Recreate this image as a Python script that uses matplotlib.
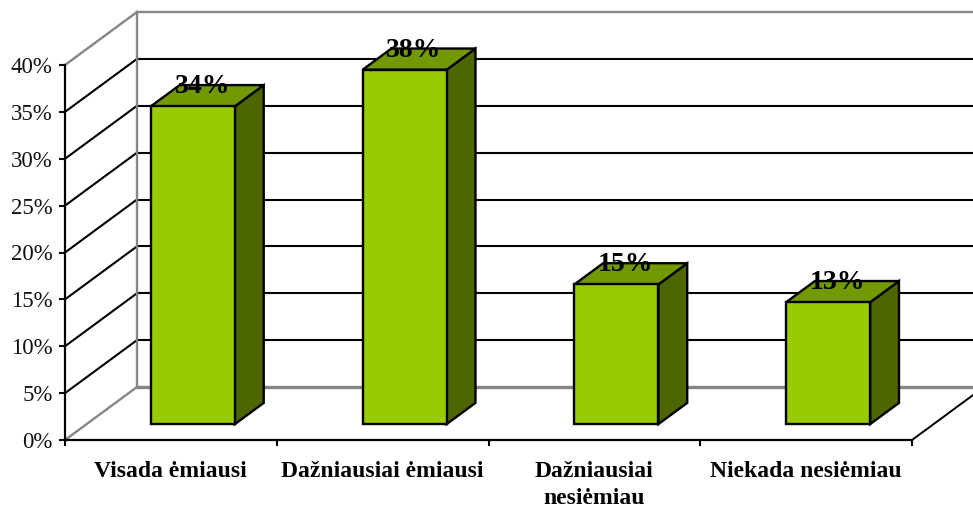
import matplotlib
matplotlib.use('Agg')
import matplotlib.pyplot as plt
from matplotlib.patches import Polygon

plt.rcParams['font.family'] = ['Liberation Serif', 'DejaVu Serif']

categories = ['Visada ėmiausi', 'Dažniausiai ėmiausi', 'Dažniausiai\nnesiėmiau', 'Niekada nesiėmiau']
values = [33.9, 37.8, 14.9, 13]
value_labels = ['34%', '38%', '15%', '13%']
y_ticks = [0, 5, 10, 15, 20, 25, 30, 35, 40]
y_tick_labels = ['0%', '5%', '10%', '15%', '20%', '25%', '30%', '35%', '40%']

W, H = 973, 508
# front plane of the box in pixels
LEFT, RIGHT, BOTTOM, TOP = 65, 912, 440, 65
# full depth of the box in data units (72 px across, 53 px up)
DEPTH_X = 72 / ((RIGHT - LEFT) / 4)
DEPTH_Y = 53 / ((BOTTOM - TOP) / 40)
BAR_W = 0.397

fig = plt.figure(figsize=(W / 100, H / 100), dpi=100)
ax = fig.add_axes([LEFT / W, 1 - BOTTOM / H, (RIGHT - LEFT) / W, (BOTTOM - TOP) / H])
ax.set_xlim(0, 4)
ax.set_ylim(0, 40)
ax.patch.set_visible(False)


# oblique projection: d is 0 at the front of the box, 1 at the back wall
def proj(x, y, d=0.0):
    return x + d * DEPTH_X, y + d * DEPTH_Y


def line3d(p, q, color, lw, z=1):
    a = proj(*p)
    b = proj(*q)
    ax.plot([a[0], b[0]], [a[1], b[1]], color=color, lw=lw, zorder=z,
            clip_on=False, solid_capstyle='projecting')


GREY = '#858585'
# walls and grid
for v in y_ticks:
    edge = v in (0, 40)
    c = GREY if edge else 'black'
    lw = 1.7 if edge else 1.5
    line3d((0, v, 0), (0, v, 1), c, lw)
    line3d((0, v, 1), (4, v, 1), c, 2.4 if v == 0 else lw)
line3d((0, 0, 1), (0, 40, 1), GREY, 1.7)
line3d((4, 0, 0), (4, 0, 1), 'black', 1.4)

# bars
for i, v in enumerate(values):
    x0 = i + 0.502 - BAR_W / 2
    x1 = i + 0.502 + BAR_W / 2
    d0, d1 = 0.3, 0.7
    front = [proj(x0, 0, d0), proj(x1, 0, d0), proj(x1, v, d0), proj(x0, v, d0)]
    side = [proj(x1, 0, d0), proj(x1, 0, d1), proj(x1, v, d1), proj(x1, v, d0)]
    top = [proj(x0, v, d0), proj(x1, v, d0), proj(x1, v, d1), proj(x0, v, d1)]
    for pts, col in [(side, '#4D6600'), (top, '#739900'), (front, '#99CC00')]:
        ax.add_patch(Polygon(pts, closed=True, facecolor=col, edgecolor='black',
                             lw=1.7, joinstyle='miter', zorder=3, clip_on=False))
    ax.annotate(value_labels[i], xy=proj(i + 0.5, v, d0), xytext=(7, 14),
                textcoords='offset points', ha='center', va='center',
                fontsize=20, fontweight='bold', color='black', zorder=4)

ax.spines['top'].set_visible(False)
ax.spines['right'].set_visible(False)
ax.spines['left'].set_linewidth(1.6)
ax.spines['bottom'].set_linewidth(1.6)
ax.spines['left'].set_zorder(2)
ax.spines['bottom'].set_zorder(2)

ax.set_yticks(y_ticks)
ax.set_yticklabels(y_tick_labels, fontsize=16.5, color='#111111')
ax.tick_params(axis='y', direction='out', length=4, width=1.5, pad=5)

ax.set_xticks([0, 1, 2, 3, 4])
ax.set_xticklabels([])
ax.tick_params(axis='x', which='major', direction='out', length=4, width=1.5)
ax.set_xticks([0.5, 1.5, 2.5, 3.5], minor=True)
ax.set_xticklabels(categories, minor=True, fontsize=17, fontweight='bold',
                   linespacing=1.4, va='top')
ax.tick_params(axis='x', which='minor', length=0, pad=15)

fig.savefig('out.png', dpi=100)
plt.close(fig)
